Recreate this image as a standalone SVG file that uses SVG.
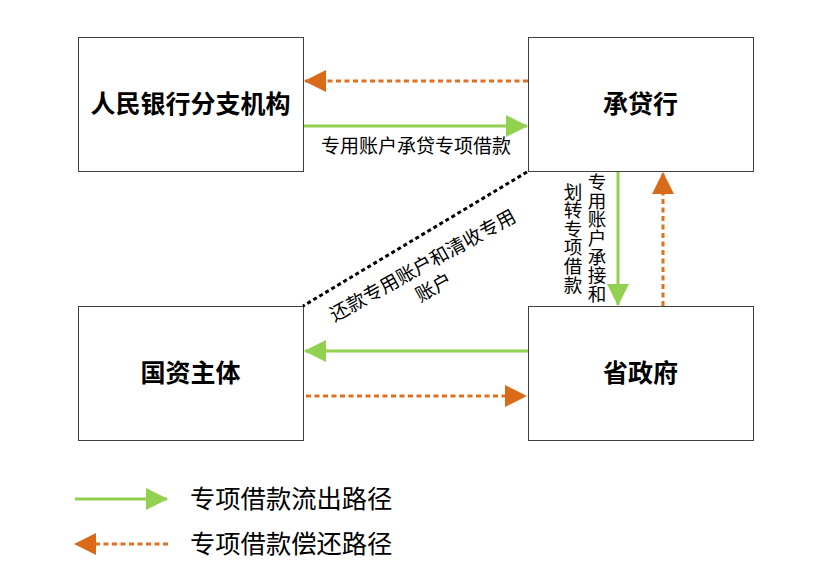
<svg xmlns="http://www.w3.org/2000/svg" width="819" height="573" viewBox="0 0 819 573">
<style>
.box{fill:#fff;stroke:#404040;stroke-width:1}
.bl{font-family:"Noto Sans CJK SC",sans-serif;font-weight:bold;font-size:25px;fill:#000;text-anchor:middle}
.lb{font-family:"Noto Sans CJK SC",sans-serif;font-size:19px;fill:#000;text-anchor:middle}
.vt{font-family:"Noto Sans CJK SC",sans-serif;font-size:18.6px;fill:#000;text-anchor:middle;writing-mode:vertical-rl}
.lg{font-family:"Noto Sans CJK SC",sans-serif;font-size:25.3px;fill:#000}
.g{stroke:#92D050;stroke-width:3;fill:none}
.o{stroke:#E07020;stroke-width:3;fill:none;stroke-dasharray:5 3.5}
.k{stroke:#000;stroke-width:3;fill:none;stroke-dasharray:4 3}
</style>
<defs>
<marker id="ga" markerUnits="userSpaceOnUse" markerWidth="22" markerHeight="24" refX="21" refY="12" orient="auto"><path d="M0,1 L22,12 L0,23 z" fill="#92D050"/></marker>
<marker id="oa" markerUnits="userSpaceOnUse" markerWidth="22" markerHeight="24" refX="21" refY="12" orient="auto"><path d="M0,1 L22,12 L0,23 z" fill="#D86A1A"/></marker>
</defs>
<g id="n1"><rect class="box" x="78.5" y="37.5" width="225" height="134"/><text class="bl" x="190.5" y="112.5">人民银行分支机构</text></g>
<g id="n2"><rect class="box" x="528.5" y="37.5" width="225" height="134"/><text class="bl" x="640.5" y="112.5">承贷行</text></g>
<g id="n3"><rect class="box" x="78.5" y="306.5" width="225" height="134"/><text class="bl" x="190.5" y="381.5">国资主体</text></g>
<g id="n4"><rect class="box" x="528.5" y="306.5" width="225" height="134"/><text class="bl" x="640.5" y="381.5">省政府</text></g>
<g id="connectors">
<line class="o" x1="528" y1="81" x2="305" y2="81" marker-end="url(#oa)"/>
<line class="g" x1="304" y1="126" x2="527" y2="126" marker-end="url(#ga)"/>
<text class="lb" x="416" y="153">专用账户承贷专项借款</text>
<line class="k" x1="527" y1="172" x2="303" y2="306"/>
<text class="lb" transform="translate(423,266) rotate(-29)" x="0" y="6">还款专用账户和清收专用</text>
<text class="lb" transform="translate(434,288) rotate(-29)" x="0" y="6">账户</text>
<line class="g" x1="618" y1="172" x2="618" y2="305" marker-end="url(#ga)"/>
<line class="o" x1="663" y1="306" x2="663" y2="173" marker-end="url(#oa)"/>
<text class="vt" x="597" y="238">专用账户承接和</text>
<text class="vt" x="573" y="238">划转专项借款</text>
<line class="g" x1="528" y1="351" x2="305" y2="351" marker-end="url(#ga)"/>
<line class="o" x1="306" y1="396" x2="526" y2="396" marker-end="url(#oa)"/>
</g>
<g id="legend">
<line class="g" x1="75" y1="499" x2="167" y2="499" marker-end="url(#ga)"/>
<text class="lg" x="190" y="508">专项借款流出路径</text>
<line class="o" x1="168" y1="544" x2="75" y2="544" marker-end="url(#oa)"/>
<text class="lg" x="190" y="553">专项借款偿还路径</text>
</g>
</svg>
